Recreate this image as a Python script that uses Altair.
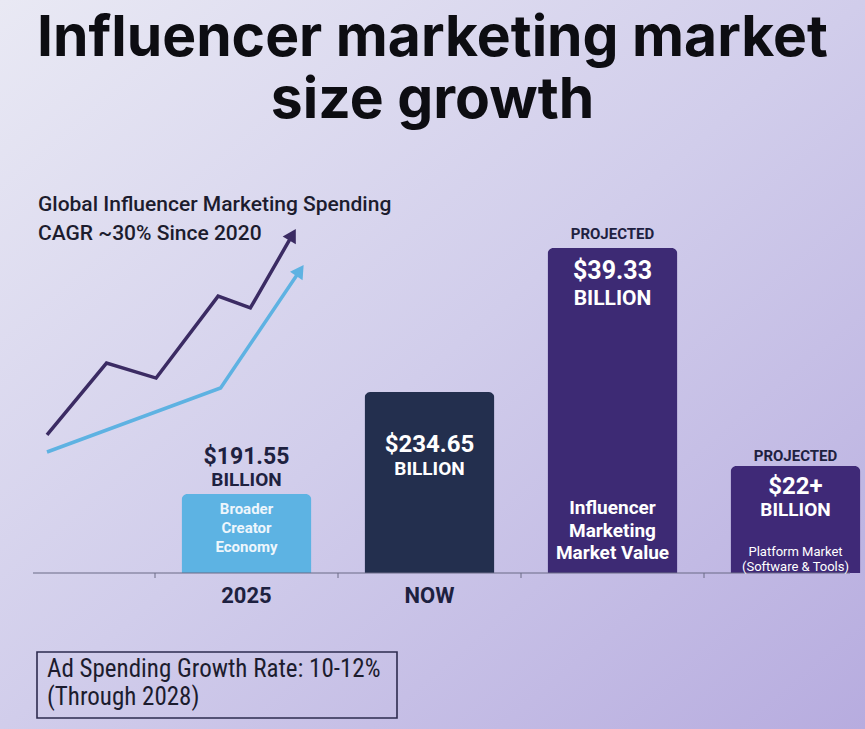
import altair as alt
import pandas as pd

# ---------------- data ----------------
categories = ["2025", "NOW", "PROJECTED", "PLATFORM"]
axis_labels = ["2025", "NOW"]
# relative display height of each bar (index, tallest bar = 100)
bar_heights = [24.3, 55.7, 100.0, 32.9]
value_labels = ["$191.55", "$234.65", "$39.33", "$22+"]
unit_labels = ["BILLION", "BILLION", "BILLION", "BILLION"]
tag_labels = ["", "", "PROJECTED", "PROJECTED"]
descriptions = [
    "Broader\nCreator\nEconomy",
    "",
    "Influencer\nMarketing\nMarket Value",
    "Platform Market\n(Software & Tools)",
]
bar_colors = ["#5db3e3", "#232f4e", "#3d2a74", "#3f2977"]

# decorative growth trend (index units)
trend_names = ["Spending", "Creator"]
spend_x = [0.0, 1.2, 2.2, 3.45, 4.1, 4.95]
spend_y = [0.76, 3.97, 3.3, 6.96, 6.43, 9.7]
creator_x = [0.0, 3.5, 5.1]
creator_y = [0.0, 2.86, 8.1]
trend_colors = ["#3b2b63", "#5eb2e2"]

title_lines = ["Influencer marketing market", "size growth"]
subtitle_lines = ["Global Influencer Marketing Spending", "CAGR ~30% Since 2020"]
note_lines = ["Ad Spending Growth Rate: 10-12%", "(Through 2028)"]

W, H = 865, 729
BASE = 573  # y of the bar baseline

bars_df = pd.DataFrame({
    "cat": categories,
    "height": bar_heights,
    "value": value_labels,
    "unit": unit_labels,
    "tag": tag_labels,
    "desc": descriptions,
})

trend_df = pd.concat([
    pd.DataFrame({"series": trend_names[0], "t": spend_x, "v": spend_y, "order": range(len(spend_x))}),
    pd.DataFrame({"series": trend_names[1], "t": creator_x, "v": creator_y, "order": range(len(creator_x))}),
])
tips_df = trend_df.groupby("series", as_index=False).last()

PAD_INNER = 0.29
x_scale = alt.Scale(domain=categories, range=[155, 887], paddingInner=PAD_INNER, paddingOuter=PAD_INNER / 2)
y_scale = alt.Scale(domain=[0, 100], range=[BASE, 248])
STEP = (887 - 155) / len(categories)

FONT = "Roboto"
AXIS_COLOR = "#6b6b85"


def X(**kw):
    return alt.X("cat:N", scale=x_scale, axis=None, **kw)


def Y():
    return alt.Y("height:Q", scale=y_scale, axis=None)


def Y0():
    return alt.YDatum(0, scale=y_scale, axis=None)


def bar_text(cat, field, dy, size, color, weight="bold", at_base=False, line_height=None):
    kw = dict(font=FONT, fontSize=size, fontWeight=weight, color=color, align="center",
              baseline="middle", dy=dy)
    if line_height:
        kw.update(lineBreak="\n", lineHeight=line_height)
    return (alt.Chart(bars_df)
            .transform_filter(alt.datum.cat == cat)
            .mark_text(**kw)
            .encode(x=X(), y=Y0() if at_base else Y(), text=f"{field}:N"))


def free_text(txt, x, y, size, color, weight="normal", font=FONT, align="left"):
    return alt.Chart(alt.Data(values=[{}])).mark_text(
        text=txt, font=font, fontSize=size, fontWeight=weight, color=color,
        align=align, baseline="alphabetic"
    ).encode(x=alt.value(x), y=alt.value(y))


one = alt.Data(values=[{}])

background = alt.Chart(one).mark_rect(
    fill=alt.Gradient(
        gradient="linear", x1=0, y1=0, x2=1, y2=1,
        stops=[alt.GradientStop(offset=0, color="#e9e9f4"),
               alt.GradientStop(offset=0.5, color="#d1cdeb"),
               alt.GradientStop(offset=1, color="#b7acdf")],
    )
).encode(x=alt.value(0), x2=alt.value(W), y=alt.value(0), y2=alt.value(H))

bars = alt.Chart(bars_df).mark_bar(cornerRadiusTopLeft=6, cornerRadiusTopRight=6).encode(
    x=X(),
    y=Y(),
    color=alt.Color("cat:N", scale=alt.Scale(domain=categories, range=bar_colors), legend=None),
)

# category axis: baseline, separator ticks between bands and the two labelled categories
baseline = alt.Chart(one).mark_rule(color=AXIS_COLOR, strokeWidth=1.2).encode(
    x=alt.value(33), x2=alt.value(850), y=Y0()
)
ticks = alt.Chart(bars_df).mark_rule(
    color=AXIS_COLOR, strokeWidth=1, xOffset=-STEP * PAD_INNER / 2
).encode(x=X(bandPosition=0), y=Y0(), y2=alt.value(BASE + 5))
axis_text = (alt.Chart(bars_df)
             .transform_filter(alt.FieldOneOfPredicate(field="cat", oneOf=axis_labels))
             .mark_text(font=FONT, fontWeight="bold", fontSize=22, color="#1d2140",
                        baseline="middle", dy=23)
             .encode(x=X(), y=Y0(), text="cat:N"))

dark_txt = "#1e2140"
labels = [
    # 2025: value sits above the bar
    bar_text("2025", "value", -37, 23, dark_txt),
    bar_text("2025", "unit", -14, 19, dark_txt),
    bar_text("2025", "desc", 15, 15, "#eef6fc", line_height=19),
    # NOW
    bar_text("NOW", "value", 53, 24, "#ffffff"),
    bar_text("NOW", "unit", 77, 19, "#ffffff"),
    # projected market value
    bar_text("PROJECTED", "tag", -14, 15, dark_txt),
    bar_text("PROJECTED", "value", 23, 25, "#ffffff"),
    bar_text("PROJECTED", "unit", 51, 21, "#ffffff"),
    bar_text("PROJECTED", "desc", -65, 19, "#ffffff", at_base=True, line_height=22.5),
    # platform market
    bar_text("PLATFORM", "tag", -10, 15, dark_txt),
    bar_text("PLATFORM", "value", 21, 24, "#ffffff"),
    bar_text("PLATFORM", "unit", 44, 19, "#ffffff"),
    bar_text("PLATFORM", "desc", -21, 13, "#ffffff", weight="normal", at_base=True, line_height=15),
]

bar_group = alt.layer(bars, baseline, ticks, axis_text, *labels)

tx = alt.X("t:Q", scale=alt.Scale(domain=[0, 5], range=[47, 295]), axis=None)
ty = alt.Y("v:Q", scale=alt.Scale(domain=[0, 10], range=[452, 228]), axis=None)
tcolor = alt.Color("series:N", scale=alt.Scale(domain=trend_names, range=trend_colors), legend=None)

trend_lines = alt.Chart(trend_df).mark_line(strokeWidth=3.5, strokeJoin="miter").encode(
    x=tx, y=ty, color=tcolor, order="order:Q"
)
tip_spend = alt.Chart(tips_df).transform_filter(alt.datum.series == trend_names[0]).mark_point(
    shape="triangle-up", filled=True, opacity=1, size=230, angle=30
).encode(x=tx, y=ty, color=tcolor)
tip_creator = alt.Chart(tips_df).transform_filter(alt.datum.series == trend_names[1]).mark_point(
    shape="triangle-up", filled=True, opacity=1, size=230, angle=34
).encode(x=tx, y=ty, color=tcolor)

trend_group = alt.layer(trend_lines, tip_spend, tip_creator)

NOTE_FONT = "Liberation Sans Narrow, Roboto Condensed, Roboto"
texts = [
    free_text(title_lines[0], W / 2, 56, 57, "#0d0d12", weight="bold", font="Inter", align="center"),
    free_text(title_lines[1], W / 2, 118, 57, "#0d0d12", weight="bold", font="Inter", align="center"),
    free_text(subtitle_lines[0], 38, 211, 21, "#1c1c2e", weight=500),
    free_text(subtitle_lines[1], 38, 240, 21, "#1c1c2e", weight=500),
    free_text(note_lines[0], 47, 677, 25, "#1c1c2e", font=NOTE_FONT),
    free_text(note_lines[1], 47, 705, 25, "#1c1c2e", font=NOTE_FONT),
]

note_box = alt.Chart(one).mark_rect(
    fill="#ffffff", fillOpacity=0.0, stroke="#2d2b4f", strokeWidth=1.6
).encode(x=alt.value(37), x2=alt.value(397), y=alt.value(652), y2=alt.value(718))

chart = alt.layer(
    background, bar_group, trend_group, note_box, *texts
).resolve_scale(x="independent", y="independent", color="independent").properties(
    width=W, height=BASE,
    padding={"left": 0, "top": 0, "right": 0, "bottom": H - BASE},
    autosize=alt.AutoSizeParams(type="none"),
).configure_view(stroke=None).configure(background="#dcdaf0")

chart.save("out.html", embed_options={"renderer": "svg", "actions": False})
